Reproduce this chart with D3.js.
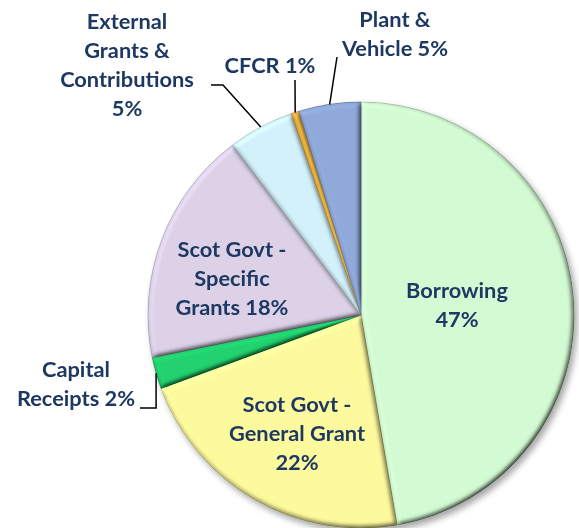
<!DOCTYPE html>
<html>
<head>
<meta charset="utf-8">
<title>Capital funding pie</title>
<script src="https://cdn.jsdelivr.net/npm/d3@7"></script>
<style>
  body { margin: 0; background: #fff; }
  .lbl { font-family: Lato, "Open Sans", sans-serif; font-weight: 700; font-size: 21.8px; fill: #1D3862; }
</style>
</head>
<body>
<div id="chart"></div>
<script>
// data (clockwise from 12 o'clock)
var categories = ["Borrowing", "Scot Govt - General Grant", "Capital Receipts",
  "Scot Govt - Specific Grants", "External Grants & Contributions", "CFCR", "Plant & Vehicle"];
var values = [47.3, 22.1, 2.4, 17.9, 5.0, 0.6, 4.7];
var labelLines = [
  ["Borrowing", "47%"],
  ["Scot Govt -", "General Grant", "22%"],
  ["Capital", "Receipts 2%"],
  ["Scot Govt -", "Specific", "Grants 18%"],
  ["External", "Grants &", "Contributions", "5%"],
  ["CFCR 1%"],
  ["Plant &", "Vehicle 5%"]
];

var colors = ["#D3FBD3", "#FDFA9E", "#22D26F", "#DCD1E7", "#D2F1FA", "#EBB23E", "#8FA9D9"];

var width = 579, height = 528;
var cx = 361, cy = 315, radius = 213;

var svg = d3.select("#chart").append("svg")
  .attr("width", width)
  .attr("height", height);

var defs = svg.append("defs");

// soft shadow under the pie
var shadow = defs.append("filter").attr("id", "shadow")
  .attr("x", "-10%").attr("y", "-10%").attr("width", "125%").attr("height", "125%");
shadow.append("feDropShadow")
  .attr("dx", 3).attr("dy", 4).attr("stdDeviation", 3)
  .attr("flood-color", "#000").attr("flood-opacity", 0.35);

// bevel look on each slice
var bevel = defs.append("filter").attr("id", "bevel")
  .attr("x", "-5%").attr("y", "-5%").attr("width", "110%").attr("height", "110%");
bevel.append("feGaussianBlur").attr("in", "SourceAlpha").attr("stdDeviation", 2.5).attr("result", "blur");
var diff = bevel.append("feDiffuseLighting")
  .attr("in", "blur").attr("surfaceScale", 4.5).attr("diffuseConstant", 1)
  .attr("lighting-color", "#fff").attr("result", "light");
diff.append("feDistantLight").attr("azimuth", 225).attr("elevation", 60);
bevel.append("feComposite")
  .attr("in", "SourceGraphic").attr("in2", "light")
  .attr("operator", "arithmetic")
  .attr("k1", 1.15).attr("k2", 0).attr("k3", 0).attr("k4", 0);

var color = d3.scaleOrdinal().domain(categories).range(colors);

var pie = d3.pie().sort(null).value(function(d) { return d.value; });
var arc = d3.arc().innerRadius(0).outerRadius(radius);

var data = categories.map(function(c, i) {
  return { name: c, value: values[i], lines: labelLines[i] };
});
var arcs = pie(data);

var g = svg.append("g")
  .attr("transform", "translate(" + cx + "," + cy + ")");

var slices = g.append("g").attr("filter", "url(#shadow)");
slices.selectAll("path")
  .data(arcs)
  .enter().append("path")
    .attr("d", arc)
    .attr("fill", function(d) { return color(d.data.name); })
    .attr("stroke", function(d) { return d3.color(color(d.data.name)).darker(0.6); })
    .attr("stroke-width", 0.6)
    .attr("filter", "url(#bevel)");

// point on the pie edge in the middle of a slice
function edgePoint(d) {
  var a = (d.startAngle + d.endAngle) / 2;
  return [cx + radius * Math.sin(a), cy - radius * Math.cos(a)];
}

// label placement: centre x and first baseline y
var labelPos = {
  "Borrowing": [457, 298],
  "Scot Govt - General Grant": [297, 412],
  "Capital Receipts": [76, 377],
  "Scot Govt - Specific Grants": [232, 257],
  "External Grants & Contributions": [127, 29],
  "CFCR": [270, 73],
  "Plant & Vehicle": [395, 27]
};
var lineHeight = 29;

var labels = svg.append("g");
arcs.forEach(function(d) {
  var p = labelPos[d.data.name];
  var t = labels.append("text")
    .attr("class", "lbl")
    .attr("text-anchor", "middle");
  d.data.lines.forEach(function(line, k) {
    t.append("tspan")
      .attr("x", p[0])
      .attr("y", p[1] + k * lineHeight)
      .text(line);
  });
});

// leader lines for the small slices
var byName = {};
arcs.forEach(function(d) { byName[d.data.name] = d; });

function leader(name, start, elbow) {
  var e = edgePoint(byName[name]);
  var pts = [start];
  if (elbow === "h") pts.push([start[0] + 12, start[1]]);
  if (elbow === "v") pts.push([e[0], start[1]]);
  pts.push(e);
  svg.append("path")
    .attr("d", d3.line()(pts))
    .attr("fill", "none")
    .attr("stroke", "#000")
    .attr("stroke-width", 1.5);
}
leader("External Grants & Contributions", [211, 85], "h");
leader("CFCR", [295, 80], null);
leader("Plant & Vehicle", [337, 57], null);
leader("Capital Receipts", [140, 408], "v");
</script>
</body>
</html>
